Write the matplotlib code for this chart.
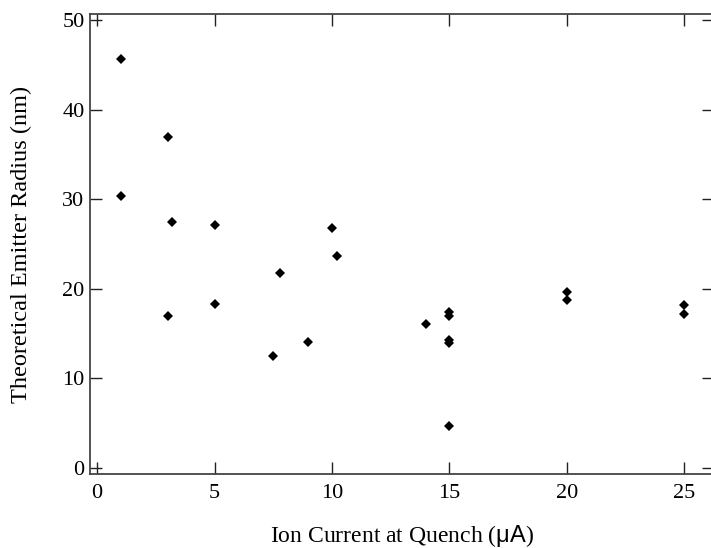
import matplotlib
matplotlib.use("Agg")
import matplotlib.pyplot as plt

plt.rcParams['font.family'] = ['Liberation Serif', 'DejaVu Serif']
plt.rcParams['mathtext.fontset'] = 'custom'
plt.rcParams['mathtext.rm'] = 'Liberation Serif'
plt.rcParams['mathtext.it'] = 'Liberation Serif:italic'
plt.rcParams['mathtext.sf'] = 'Liberation Sans'

ion_current = [1, 1, 3, 3.2, 3, 5, 5, 7.5, 7.8, 9, 10, 10.2, 14,
               15, 15, 15, 15, 15, 20, 20, 25, 25]
emitter_radius = [45.6, 30.3, 36.9, 27.4, 16.9, 27.1, 18.3, 12.5, 21.7, 14.0, 26.8, 23.7, 16.0,
                  17.4, 16.9, 14.3, 13.9, 4.7, 19.6, 18.7, 18.2, 17.2]

xticks = [0, 5, 10, 15, 20, 25]
yticks = [0, 10, 20, 30, 40, 50]

fig = plt.figure(figsize=(7.11, 5.48), dpi=100)
ax = fig.add_axes([90/711, 1 - 474/548, (714 - 90)/711, (474 - 14)/548])

ax.plot(ion_current, emitter_radius, linestyle='none', marker='D',
        markersize=4.8, color='black', markeredgewidth=0)

ax.set_xlim(-0.3, 26.26)
ax.set_ylim(-0.7, 50.67)
ax.set_xticks(xticks)
ax.set_yticks(yticks)
ax.tick_params(direction='in', length=8.5, width=1.0, color='#222222',
               top=True, right=True, labelsize=16)
ax.tick_params(axis='x', pad=7)
ax.tick_params(axis='y', pad=4)
for s in ax.spines.values():
    s.set_color('#444444')
    s.set_linewidth(1.3)

ax.set_ylabel('Theoretical Emitter Radius (nm)', fontsize=17.5)
ax.set_xlabel(r'Ion Current at Quench ($\mathsf{μA}$)', fontsize=17)
ax.yaxis.set_label_coords((32 - 90) / 624, 0.5)
ax.xaxis.set_label_coords(0.5, (474 - 523) / 460)

fig.savefig('out.png', dpi=100)
